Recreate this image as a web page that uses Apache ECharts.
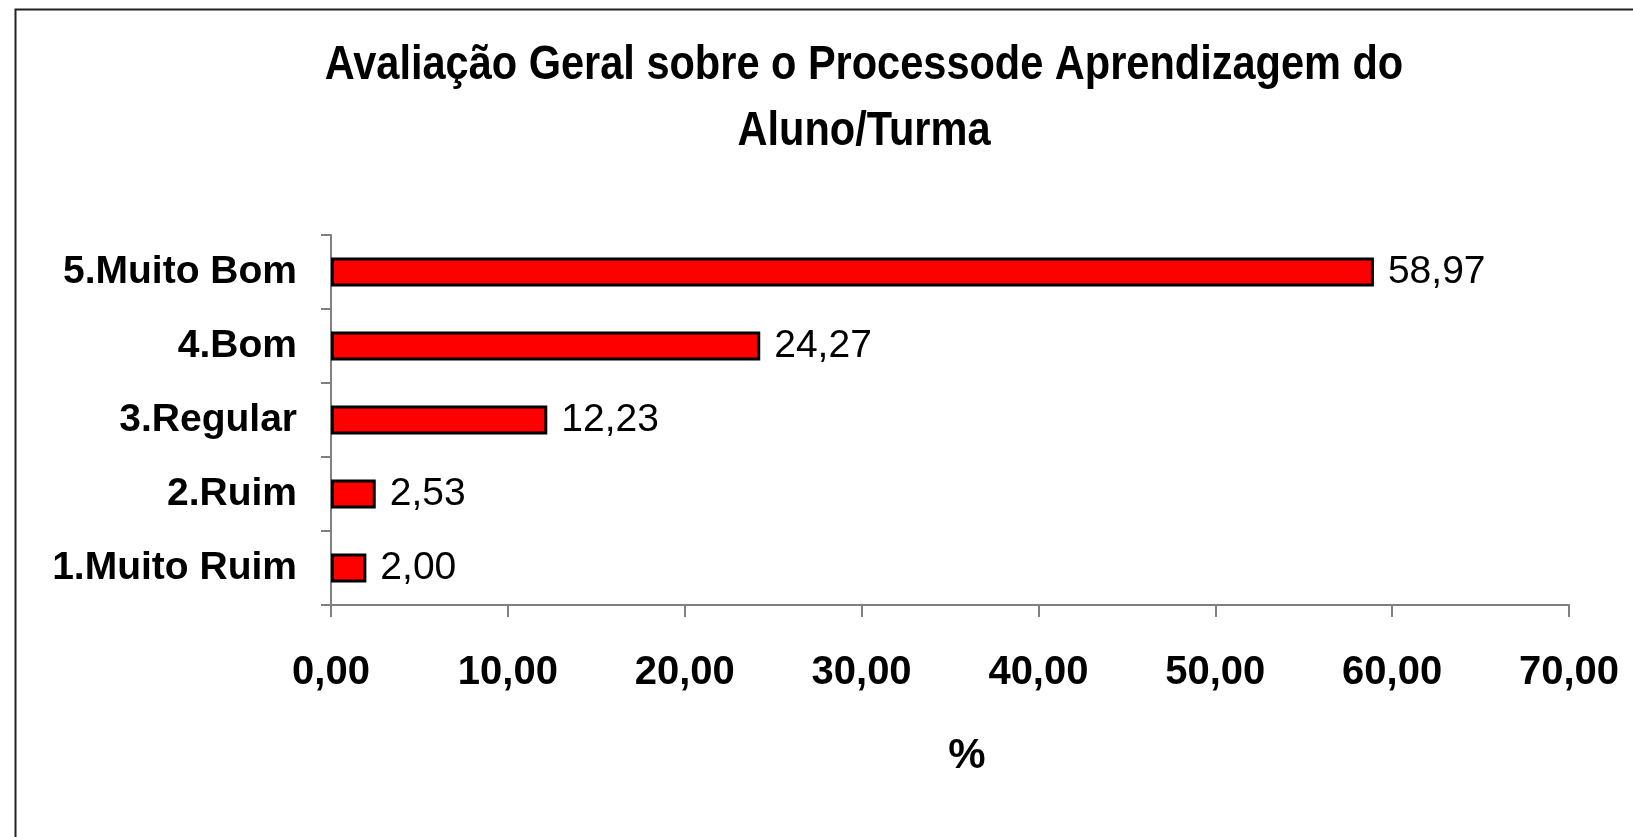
<!DOCTYPE html>
<html>
<head>
<meta charset="utf-8">
<script src="https://cdn.jsdelivr.net/npm/echarts@6/dist/echarts.min.js"></script>
<style>
html,body{margin:0;padding:0;background:#fff;}
#chart{width:1633px;height:837px;}
</style>
</head>
<body>
<div id="chart"></div>
<script>
var categorias = ['1.Muito Ruim', '2.Ruim', '3.Regular', '4.Bom', '5.Muito Bom'];
var valores = [2.00, 2.53, 12.23, 24.27, 58.97];
var eixoX = { min: 0, max: 70, interval: 10 };
var titulo = 'Avaliação Geral sobre o Processode Aprendizagem do\nAluno/Turma';

var fonte = "'Liberation Sans', Arial, sans-serif";
var chart = echarts.init(document.getElementById('chart'));

function virgula(v, casas) {
    return v.toFixed(casas).replace('.', ',');
}

//grafico de barras
var option = {
    backgroundColor: '#ffffff',
    animation: false,
    graphic: [{
        type: 'rect',
        left: 13,
        top: 7,
        shape: { width: 1700, height: 900 },
        style: { fill: 'none', stroke: '#222', lineWidth: 2 }
    }, {
        // titulo condensado (fonte estreita nao disponivel)
        type: 'text',
        x: 864,
        y: 99,
        scaleX: 0.865,
        style: {
            text: titulo,
            fontFamily: fonte,
            fontWeight: 'bold',
            fontSize: 48,
            lineHeight: 66,
            fill: '#000',
            align: 'center',
            verticalAlign: 'middle'
        }
    }],
    grid: {
        left: 331,
        right: 64,
        top: 235,
        bottom: 232
    },
    xAxis: {
        type: 'value',
        min: eixoX.min,
        max: eixoX.max,
        interval: eixoX.interval,
        name: '%',
        nameLocation: 'middle',
        nameGap: 130,
        nameTextStyle: {
            fontFamily: fonte,
            fontWeight: 'bold',
            fontSize: 42,
            color: '#000',
            padding: [0, 0, 0, 34]
        },
        axisLine: { show: true, lineStyle: { color: '#808080', width: 2 } },
        axisTick: { show: true, length: 12, lineStyle: { color: '#808080', width: 2 } },
        splitLine: { show: false },
        axisLabel: {
            margin: 48,
            fontFamily: fonte,
            fontWeight: 'bold',
            fontSize: 40,
            color: '#000',
            formatter: function (v) { return virgula(v, 2); }
        }
    },
    yAxis: {
        type: 'category',
        data: categorias,
        axisLine: { show: true, lineStyle: { color: '#808080', width: 2 } },
        axisTick: { show: true, length: 10, lineStyle: { color: '#808080', width: 2 } },
        axisLabel: {
            margin: 34,
            fontFamily: fonte,
            fontWeight: 'bold',
            fontSize: 39,
            color: '#000'
        }
    },
    series: [{
        type: 'bar',
        data: valores,
        barWidth: 29,
        itemStyle: {
            color: '#ff0000',
            borderColor: '#000',
            borderWidth: 3
        },
        label: {
            show: true,
            position: 'right',
            distance: 14,
            fontFamily: fonte,
            fontSize: 39,
            color: '#000',
            formatter: function (p) { return virgula(p.value, 2); }
        }
    }]
};
chart.setOption(option);
</script>
</body>
</html>
